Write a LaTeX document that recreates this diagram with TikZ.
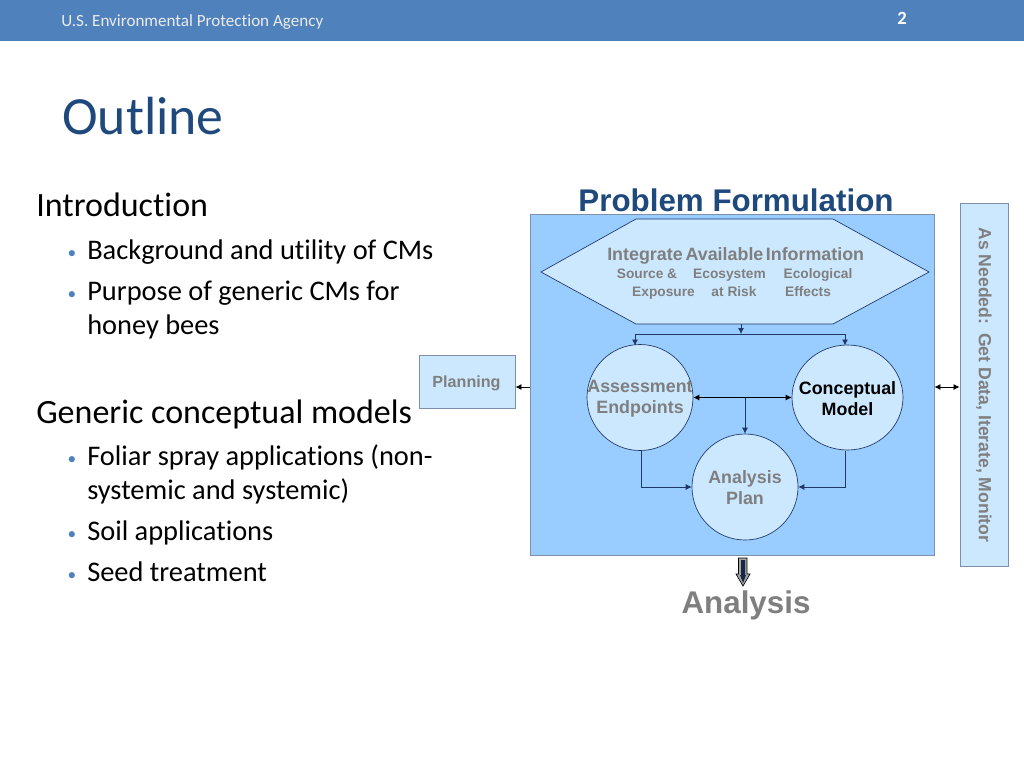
\documentclass[tikz,border=0pt]{standalone}
\usepackage{fontspec}
\setmainfont[Ligatures=CommonOff]{Carlito}
\newfontfamily\dia{Liberation Sans}
\usetikzlibrary{arrows.meta,shapes.geometric}
\definecolor{barblue}{HTML}{4F81BD}
\definecolor{titleblue}{HTML}{1F497D}
\definecolor{panelblue}{HTML}{99CCFF}
\definecolor{paleblue}{HTML}{CCE8FF}
\definecolor{edgeblue}{HTML}{1F3864}
\definecolor{boxedge}{HTML}{7F8FA9}
\definecolor{greytext}{HTML}{7F7F7F}
\tikzset{
  x=0.75pt,y=-0.75pt,
  body/.style={anchor=base west,inner sep=0pt,font=\fontsize{25.5}{30}\selectfont,text=black},
  sub/.style={anchor=base west,inner sep=0pt,font=\fontsize{21.3}{25.7}\selectfont,text=black,align=left},
  dot/.style={anchor=base,inner sep=0pt,font=\fontsize{13}{15}\selectfont,text=barblue},
  disc/.style={circle,draw=edgeblue,line width=0.5pt,fill=paleblue,minimum size=79.5pt,inner sep=0pt},
  discwide/.style={ellipse,draw=edgeblue,line width=0.5pt,fill=paleblue,minimum width=83.25pt,minimum height=78.75pt,inner sep=0pt},
  disclab/.style={inner sep=0pt,align=center,font=\dia\bfseries\fontsize{13.4}{15.8}\selectfont,text=greytext},
  sidebox/.style={draw=boxedge,line width=0.7pt,fill=paleblue,inner sep=0pt},
  hexlab/.style={anchor=base,inner sep=0pt,text=greytext,font=\dia\bfseries\fontsize{10.3}{12}\selectfont},
  hexhead/.style={anchor=base,inner sep=0pt,text=greytext,font=\dia\bfseries\fontsize{13.4}{15}\selectfont},
  link/.style={draw=edgeblue,line width=0.6pt,-{Latex[length=4.5pt,width=4.5pt]}},
  linkplain/.style={draw=edgeblue,line width=0.6pt},
  linkdouble/.style={draw=black,line width=0.6pt,{Latex[length=4.5pt,width=4.5pt]}-{Latex[length=4.5pt,width=4.5pt]}},
}
\begin{document}
\begin{tikzpicture}
\useasboundingbox (0,0) rectangle (1024,768);
\fill[barblue] (0,0) rectangle (1024,40.5);
\node[anchor=base west,inner sep=0pt,text=white!92!black,font=\fontsize{12.8}{14}\selectfont] (agency) at (61,26.5) {U.S. Environmental Protection Agency};
\node[anchor=base,inner sep=0pt,text=white,font=\bfseries\fontsize{14}{15}\selectfont] (pagenum) at (902,24) {2};
\node[anchor=base west,inner sep=0pt,text=titleblue,font=\fontsize{40.3}{45}\selectfont] (title) at (62,134) {Outline};
\node[body] (intro) at (36,216) {Introduction};
\node[dot] at (72,258) {•};
\node[sub] (b1) at (87,259) {Background and utility of CMs};
\node[dot] at (72,299) {•};
\node[sub] (b2) at (87,300) {Purpose of generic CMs for};
\node[sub] (b2b) at (87,334) {honey bees};
\node[body] (gen) at (36,423) {Generic conceptual models};
\node[dot] at (72,464) {•};
\node[sub] (b3) at (87,465) {Foliar spray applications (non-};
\node[sub] (b3b) at (87,499) {systemic and systemic)};
\node[dot] at (72,539) {•};
\node[sub] (b4) at (87,540) {Soil applications};
\node[dot] at (72,580) {•};
\node[sub] (b5) at (87,581) {Seed treatment};
% panel
\node[anchor=base,inner sep=0pt,text=titleblue,font=\dia\bfseries\fontsize{23.5}{28}\selectfont] (pf) at (736,211) {Problem Formulation};
\node[sidebox,fill=panelblue,minimum width=303pt,minimum height=255.75pt] (panel) at (732,384.5) {};
\node[sidebox,minimum width=72pt,minimum height=39.75pt] (planning) at (467,381.5) {};
\node[anchor=base,inner sep=0pt,text=greytext,font=\dia\bfseries\fontsize{12.1}{13}\selectfont] (planlab) at (466.5,387) {Planning};
\node[sidebox,minimum width=36pt,minimum height=272.25pt] (side) at (984,384.5) {};
\node[rotate=-90,inner sep=0pt,text=greytext,font=\dia\bfseries\fontsize{13.2}{14}\selectfont] (sidelab) at (984,385) {As Needed:\hspace{0.5em}Get Data, Iterate, Monitor};
% hexagon
\coordinate (hl) at (541,272);
\coordinate (htl) at (636,219);
\coordinate (htr) at (833,219);
\coordinate (hr) at (929,272);
\coordinate (hbr) at (833,324);
\coordinate (hbl) at (636,324);
\draw[fill=paleblue,draw=edgeblue,line width=0.5pt] (hl)--(htl)--(htr)--(hr)--(hbr)--(hbl)--cycle;
\node[hexhead] (h1) at (645,260) {Integrate};
\node[hexhead] (h2) at (724.5,260) {Available};
\node[hexhead] (h3) at (815,260) {Information};
\node[hexlab] (s1) at (647,278) {Source \&};
\node[hexlab] (s2) at (729.5,278) {Ecosystem};
\node[hexlab] (s3) at (818,278) {Ecological};
\node[hexlab] (e1) at (663.5,296) {Exposure};
\node[hexlab] (e2) at (734,296) {at Risk};
\node[hexlab] (e3) at (808,296) {Effects};
% discs
\node[disc] (ae) at (640,397.5) {};
\node[discwide] (cm) at (847.5,397.5) {};
\node[disc] (ap) at (745,487) {};
\node[disclab] (aelab) at (640,398.5) {Assessment\\Endpoints};
\node[disclab,text=black] (cmlab) at (847.5,398.5) {Conceptual\\Model};
\node[disclab] (aplab) at (745,488) {Analysis\\Plan};
% connectors
\coordinate (hdrop) at (741,324);
\coordinate (hjoin) at (741,334);
\coordinate (jl) at (635,334);
\coordinate (jr) at (845,334);
\draw[link] (hdrop) -- (hjoin);
\draw[linkplain] (jl) -- (jr);
\draw[link] (jl) -- (635,345.5);
\draw[link] (jr) -- (845,345.5);
\draw[linkdouble] (ae.east) -- (cm.west);
\coordinate (mid) at (745,397.5);
\draw[link] (mid) -- (ap.north);
\draw[link] (641,450.5) |- (ap.west);
\draw[link] (845,450.5) |- (ap.east);
\draw[draw=black,line width=0.6pt,-{Latex[length=4.5pt,width=4.5pt]}] (panel.west |- 0,387) -- (planning.east |- 0,387);
\draw[linkdouble] (panel.east |- 0,387) -- (side.west |- 0,387);
% block arrow
\draw[draw=black,fill=gray!70,line width=0.5pt] (738.5,558)--(747,558)--(747,574)--(750,574)--(743,586)--(736,574)--(738.5,574)--cycle;
\fill[edgeblue!70!black] (741,560)--(745,560)--(745,575)--(746,575)--(743,583)--(740,575)--(741,575)--cycle;
\node[anchor=base,inner sep=0pt,text=greytext,font=\dia\bfseries\fontsize{23.5}{28}\selectfont] (an) at (746,613) {Analysis};
\end{tikzpicture}
\end{document}
